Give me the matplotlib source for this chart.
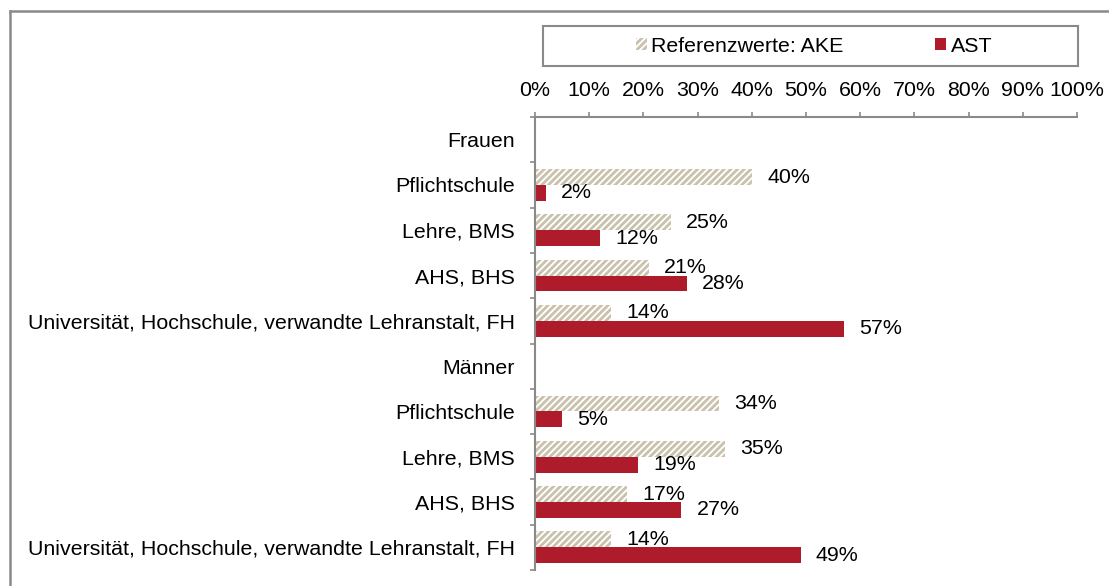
import numpy as np
import matplotlib.pyplot as plt
from matplotlib.patches import Rectangle, Patch
from matplotlib.lines import Line2D

# Daten
categories = ['Frauen', 'Pflichtschule', 'Lehre, BMS', 'AHS, BHS',
              'Universität, Hochschule, verwandte Lehranstalt, FH',
              'Männer', 'Pflichtschule', 'Lehre, BMS', 'AHS, BHS',
              'Universität, Hochschule, verwandte Lehranstalt, FH']
ake = [np.nan, 40, 25, 21, 14, np.nan, 34, 35, 17, 14]
ast = [np.nan, 2, 12, 28, 57, np.nan, 5, 19, 27, 49]
xticks = [0, 10, 20, 30, 40, 50, 60, 70, 80, 90, 100]
series_names = ['Referenzwerte: AKE', 'AST']

red = '#ae1c2c'
beige = '#c9c1ab'
gray = '#8a8a8a'

plt.rcParams['font.family'] = ['Liberation Sans', 'DejaVu Sans']
plt.rcParams['font.size'] = 15.4
plt.rcParams['hatch.linewidth'] = 2.0

W, H = 1109, 586
fig = plt.figure(figsize=(W / 100, H / 100), dpi=100)
ax = fig.add_axes([535 / W, 1 - 570 / H, (1077 - 535) / W, (570 - 117) / H])

y = np.arange(len(categories))
bh = 0.35
ax.barh(y - bh / 2, ake, height=bh, color='white', edgecolor=beige,
        hatch='/////', linewidth=0, zorder=1)
ax.barh(y + bh / 2, ast, height=bh, color=red, linewidth=0, zorder=2)

# Datenbeschriftungen
for i in range(len(categories)):
    if not np.isnan(ake[i]):
        ax.annotate(f'{ake[i]:.0f}%', (ake[i], y[i] - bh / 2), xytext=(11, 0),
                    textcoords='offset points', va='center', ha='left', zorder=1.5)
    if not np.isnan(ast[i]):
        ax.annotate(f'{ast[i]:.0f}%', (ast[i], y[i] + bh / 2), xytext=(11, 0),
                    textcoords='offset points', va='center', ha='left', zorder=3)

ax.set_xlim(0, 100)
ax.set_ylim(len(categories) - 0.5, -0.5)
ax.set_xticks(xticks)
ax.set_xticklabels([f'{t}%' for t in xticks])
ax.xaxis.tick_top()
ax.set_yticks(y)
ax.set_yticklabels(categories)
ax.set_yticks(np.arange(-0.5, len(categories), 1), minor=True)

ax.tick_params(axis='x', which='major', direction='out', length=3.6, width=1.2,
               color=gray, pad=8.5)
ax.tick_params(axis='y', which='major', length=0, pad=14.5)
ax.tick_params(axis='y', which='minor', direction='out', length=3.6, width=1.2,
               color=gray)

for s in ['right', 'bottom']:
    ax.spines[s].set_visible(False)
for s in ['left', 'top']:
    ax.spines[s].set_color(gray)
    ax.spines[s].set_linewidth(1.5)

# Legende
handles = [Patch(facecolor='white', edgecolor=beige, hatch='/////', linewidth=0),
           Patch(facecolor=red, linewidth=0)]
fig.legend(handles, series_names, loc='center', ncol=2, frameon=False,
           bbox_to_anchor=(814 / W, 1 - 46 / H), handlelength=0.52,
           handleheight=0.52, handletextpad=0.2, columnspacing=4.3, borderpad=0)
fig.add_artist(Rectangle((543 / W, 1 - 66 / H), (1078 - 543) / W, 40 / H,
                         transform=fig.transFigure, fill=False,
                         edgecolor=gray, linewidth=1.5))

# Rahmen der Grafik
fig.add_artist(Line2D([9.5 / W, 1.0], [1 - 11 / H, 1 - 11 / H],
                      transform=fig.transFigure, color=gray, linewidth=1.8))
fig.add_artist(Line2D([9.5 / W, 9.5 / W], [0.0, 1 - 11 / H],
                      transform=fig.transFigure, color=gray, linewidth=1.8))

fig.savefig('out.png', dpi=100)
